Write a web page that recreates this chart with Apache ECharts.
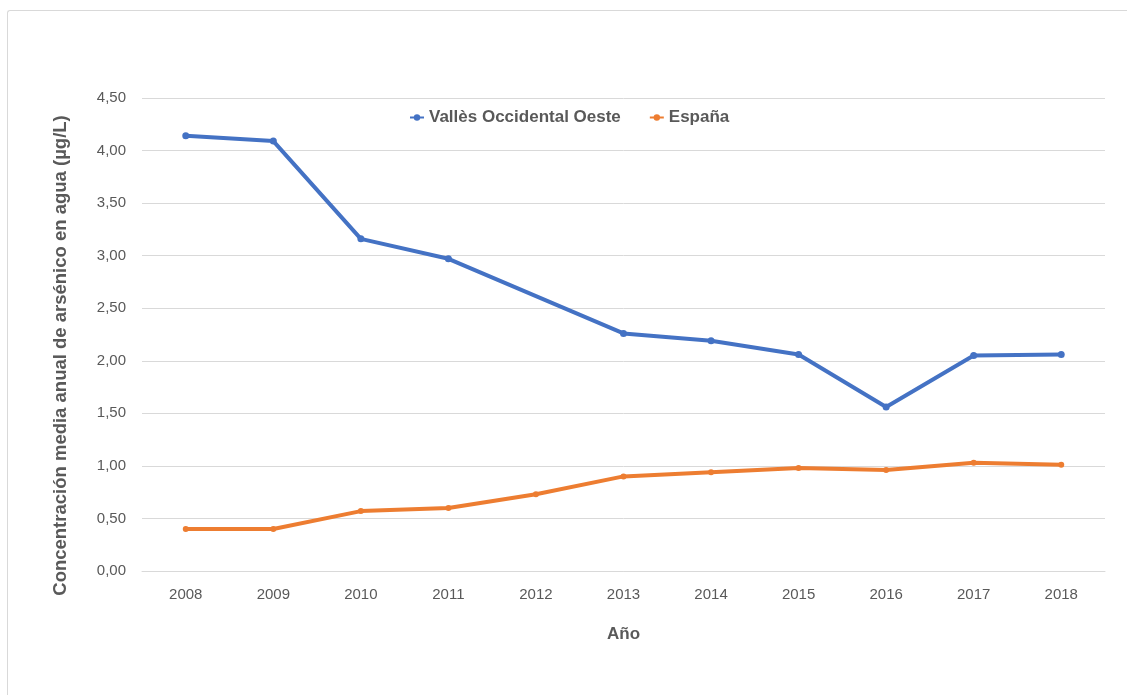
<!DOCTYPE html>
<html>
<head>
<meta charset="utf-8">
<script src="https://cdn.jsdelivr.net/npm/echarts@6/dist/echarts.min.js"></script>
<style>
  html, body { margin: 0; padding: 0; background: #fff; }
  #frame { position: absolute; left: 7px; top: 10px; width: 1130px; height: 700px;
           border-top: 1px solid #d9d9d9; border-left: 1px solid #d9d9d9; border-radius: 3px 0 0 0; }
  #chart { position: absolute; left: 0; top: 0; width: 1127px; height: 695px; }
</style>
</head>
<body>
<div id="frame"></div>
<div id="chart"></div>
<script>
// datos
const years = ["2008", "2009", "2010", "2011", "2012", "2013", "2014", "2015", "2016", "2017", "2018"];
const valles = [4.14, 4.09, 3.16, 2.97, null, 2.26, 2.19, 2.06, 1.56, 2.05, 2.06];
const espana = [0.40, 0.40, 0.57, 0.60, 0.73, 0.90, 0.94, 0.98, 0.96, 1.03, 1.01];

const font = "'Liberation Sans', 'Open Sans', sans-serif";
const myChart = echarts.init(document.getElementById("chart"));

const option = {
  animation: false,
  textStyle: { fontFamily: font },
  legend: {
    top: 104,
    left: 404,
    itemGap: 28,
    itemWidth: 14,
    itemHeight: 8,
    textStyle: { color: "#595959", fontSize: 17, fontWeight: "bold", fontFamily: font },
    data: ["Vallès Occidental Oeste", "España"]
  },
  grid: { left: 142, right: 22, top: 98, bottom: 124 },
  xAxis: {
    type: "category",
    data: years,
    name: "Año",
    nameLocation: "middle",
    nameGap: 55,
    nameTextStyle: { color: "#595959", fontSize: 17, fontWeight: "bold" },
    axisLine: { lineStyle: { color: "#d9d9d9" } },
    axisTick: { show: false },
    axisLabel: { color: "#595959", fontSize: 15, margin: 16 }
  },
  yAxis: {
    type: "value",
    min: 0,
    max: 4.5,
    interval: 0.5,
    name: "Concentración media anual de arsénico en agua (µg/L)",
    nameLocation: "middle",
    nameGap: 72,
    nameTextStyle: { color: "#595959", fontSize: 18.5, fontWeight: "bold", padding: [0, 42, 0, 0] },
    axisLabel: {
      color: "#595959", fontSize: 15, margin: 16,
      formatter: v => v.toFixed(2).replace(".", ",")
    },
    splitLine: { lineStyle: { color: "#d9d9d9" } }
  },
  series: [
    {
      name: "Vallès Occidental Oeste",
      type: "line",
      data: valles,
      connectNulls: true,
      symbol: "circle",
      symbolSize: 7,
      color: "#4472c4",
      lineStyle: { width: 4 }
    },
    {
      name: "España",
      type: "line",
      data: espana,
      symbol: "circle",
      symbolSize: 6,
      color: "#ed7d31",
      lineStyle: { width: 4 }
    }
  ]
};
myChart.setOption(option);
</script>
</body>
</html>
